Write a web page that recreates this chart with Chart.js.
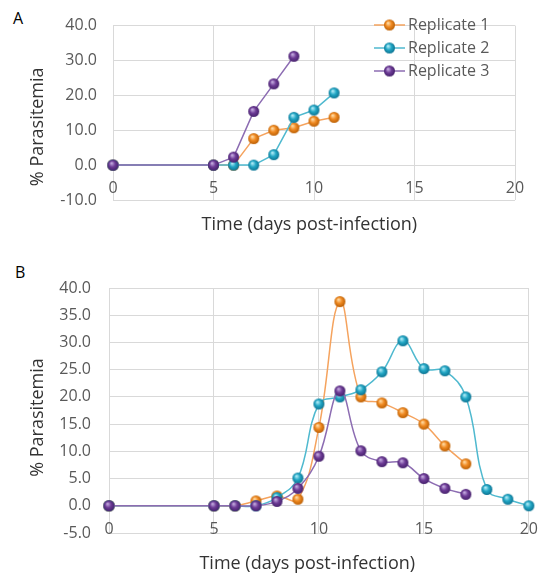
<!DOCTYPE html>
<html>
<head>
<meta charset="utf-8">
<script src="https://cdn.jsdelivr.net/npm/chart.js@4/dist/chart.umd.min.js"></script>
<style>
  body { margin: 0; background: #fff; width: 552px; height: 573px; position: relative; overflow: hidden; font-family: 'Open Sans', sans-serif; }
  .panel { position: absolute; left: 0; }
  .tag { position: absolute; font-size: 16px; color: #000; line-height: 1; }
</style>
</head>
<body>
<div class="tag" style="left:13px;top:10px">A</div>
<div class="tag" style="left:15px;top:264px">B</div>
<canvas id="chartA" class="panel" style="top:0" width="552" height="245"></canvas>
<canvas id="chartB" class="panel" style="top:255px" width="552" height="318"></canvas>
<script>
// panel A
const daysA = [0, 5, 6, 7, 8, 9, 10, 11];
const rep1A = [0, 0, 0, 7.6, 10.0, 10.7, 12.6, 13.7];
const rep2A = [0, 0, 0, 0, 3.0, 13.7, 15.8, 20.7];
const rep3A = [0, 0, 2.3, 15.4, 23.3, 31.2];
const yTicksA = [-10, 0, 10, 20, 30, 40];

// panel B
const daysB = [0, 5, 6, 7, 8, 9, 10, 11, 12, 13, 14, 15, 16, 17, 18, 19, 20];
const rep1B = [0, 0, 0, 0.9, 1.8, 1.2, 14.4, 37.5, 20.0, 18.9, 17.1, 15.0, 11.0, 7.7];
const rep2B = [0, 0, 0, 0, 1.5, 5.1, 18.7, 20.0, 21.3, 24.6, 30.3, 25.2, 24.8, 20.0, 3.0, 1.2, 0];
const rep3B = [0, 0, 0, 0, 0.8, 3.2, 9.1, 21.1, 10.1, 8.1, 7.9, 5.0, 3.2, 2.1];
const yTicksB = [-5, 0, 5, 10, 15, 20, 25, 30, 35, 40];

const xTicks = [0, 5, 10, 15, 20];
const seriesNames = ['Replicate 1', 'Replicate 2', 'Replicate 3'];

const lineColors = ['#f5a35e', '#4fb9cf', '#8c6cb2'];
const ballBase = ['#f08a22', '#22a7c5', '#6e3c97'];
const ballLight = ['#ffd9a0', '#aeeaf6', '#c2a8de'];
const ballDark = ['#b45a00', '#0a6d8c', '#401d66'];

Chart.defaults.font.family = "'Open Sans', sans-serif";

// shaded ball marker, like the excel 3d points
function makeBall(i) {
  const r = 5.5;
  const c = document.createElement('canvas');
  c.width = 13; c.height = 13;
  const g = c.getContext('2d');
  const grad = g.createRadialGradient(5, 4.5, 0.5, 6.5, 6.5, r + 0.5);
  grad.addColorStop(0, ballLight[i]);
  grad.addColorStop(0.45, ballBase[i]);
  grad.addColorStop(1, ballDark[i]);
  g.fillStyle = grad;
  g.beginPath();
  g.arc(6.5, 6.5, r, 0, Math.PI * 2);
  g.fill();
  return c;
}
const balls = [0, 1, 2].map(makeBall);

function pts(days, vals) {
  return vals.map((v, i) => ({x: days[i], y: v}));
}

function series(i, days, vals, tension) {
  return {
    label: seriesNames[i],
    data: pts(days, vals),
    borderColor: lineColors[i],
    backgroundColor: ballBase[i],
    borderWidth: 1.5,
    pointStyle: balls[i],
    pointRadius: 5.5,
    tension: tension,
    clip: false,
    order: 3 - i
  };
}

// legend with line + marker, drawn inside the plot
const lineLegend = {
  id: 'lineLegend',
  afterDraw(chart, args, opts) {
    if (!opts.show) return;
    const ctx = chart.ctx;
    ctx.save();
    ctx.font = "16px 'Open Sans', sans-serif";
    ctx.textBaseline = 'middle';
    ctx.textAlign = 'left';
    chart.data.datasets.forEach((ds, i) => {
      const y = opts.y + i * opts.gap;
      ctx.strokeStyle = ds.borderColor;
      ctx.lineWidth = 1.5;
      ctx.beginPath();
      ctx.moveTo(opts.x, y);
      ctx.lineTo(opts.x + 31, y);
      ctx.stroke();
      ctx.drawImage(ds.pointStyle, opts.x + 15.5 - 6.5, y - 6.5);
      ctx.fillStyle = '#595959';
      ctx.fillText(ds.label, opts.x + 34, y);
    });
    ctx.restore();
  }
};

function makeOptions(yTicks, yAxisWidth, pad, labelPad, yTitle, xTitle, xTitlePad, legend) {
  return {
    responsive: false,
    animation: false,
    events: [],
    layout: {padding: pad},
    plugins: {
      legend: {display: false},
      tooltip: {enabled: false},
      lineLegend: legend
    },
    scales: {
      x: {
        type: 'linear',
        position: {y: 0},
        min: xTicks[0],
        max: xTicks[xTicks.length - 1],
        grid: {color: '#d9d9d9', lineWidth: 1, drawTicks: false},
        border: {display: false},
        ticks: {stepSize: 5, padding: 14, color: '#595959', font: {size: 16}},
        title: {display: true, text: xTitle, color: '#333', font: {size: 18}, padding: {top: xTitlePad, bottom: 0}}
      },
      y: {
        min: yTicks[0],
        max: yTicks[yTicks.length - 1],
        grid: {color: '#d9d9d9', lineWidth: 1, drawTicks: false},
        border: {display: false},
        ticks: {
          stepSize: yTicks[1] - yTicks[0],
          padding: labelPad,
          color: '#595959',
          font: {size: 16},
          callback: v => v.toFixed(1)
        },
        title: {display: true, text: yTitle, color: '#333', font: {size: 18}, padding: {top: 27, bottom: 0}},
        afterFit: s => { s.width = yAxisWidth; }
      }
    }
  };
}

new Chart(document.getElementById('chartA'), {
  type: 'line',
  data: {
    datasets: [
      series(0, daysA, rep1A, 0),
      series(1, daysA, rep2A, 0),
      series(2, daysA, rep3A, 0)
    ]
  },
  options: makeOptions(yTicksA, 113, {top: 22, right: 37, bottom: 45, left: 0}, 16,
    '% Parasitemia      ', 'Time (days post-infection)  ', 2,
    {show: true, x: 374, y: 25, gap: 23}),
  plugins: [lineLegend]
});

new Chart(document.getElementById('chartB'), {
  type: 'line',
  data: {
    datasets: [
      series(0, daysB, rep1B, 0.4),
      series(1, daysB, rep2B, 0.4),
      series(2, daysB, rep3B, 0.4)
    ]
  },
  options: makeOptions(yTicksB, 109, {top: 33, right: 17, bottom: 40, left: 0}, 18,
    '% Parasitemia   ', 'Time (days post-infection)     ', 0,
    {show: false}),
  plugins: [lineLegend]
});
</script>
</body>
</html>
